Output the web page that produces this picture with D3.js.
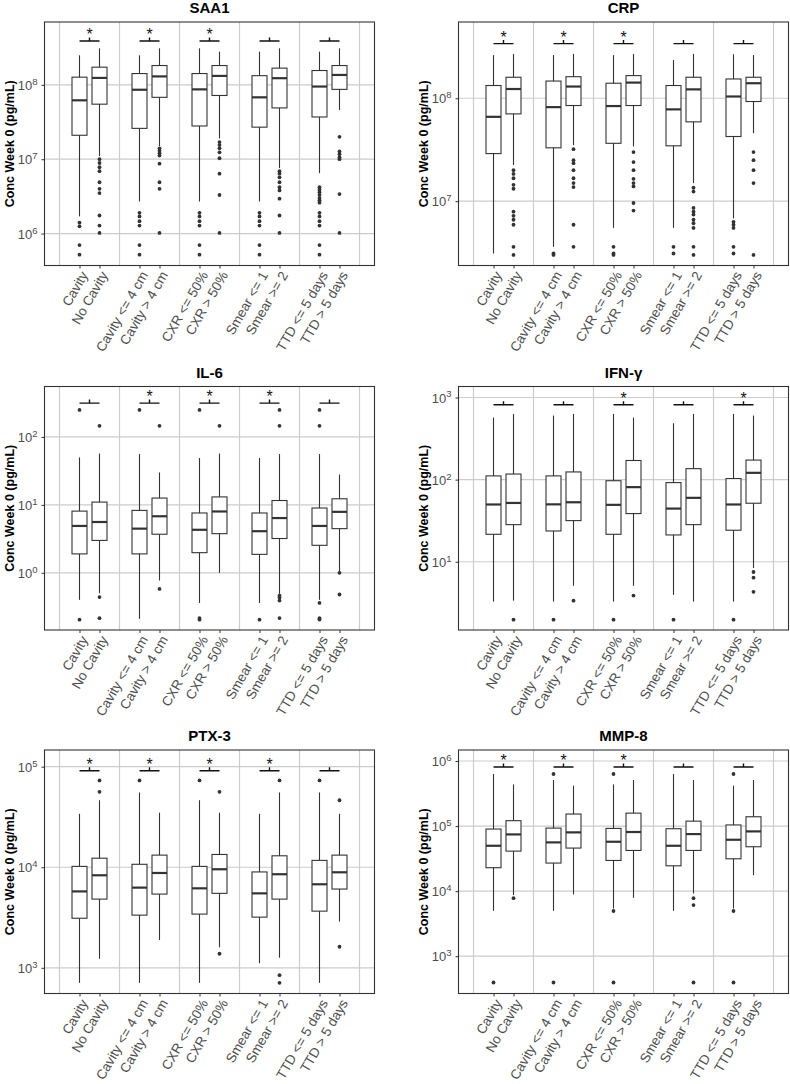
<!DOCTYPE html>
<html>
<head>
<meta charset="utf-8">
<script src="https://cdn.jsdelivr.net/npm/d3@7"></script>
<style>
  body { margin: 0; background: #fff; }
  svg { display: block; font-family: "Liberation Sans", Arial, sans-serif; }
</style>
</head>
<body>
<div id="chart"></div>
<script>
const w = 790;
const h = 1084;

const groups = [
  "Cavity", "No Cavity",
  "Cavity <= 4 cm", "Cavity > 4 cm",
  "CXR <= 50%", "CXR > 50%",
  "Smear <= 1", "Smear >= 2",
  "TTD <= 5 days", "TTD > 5 days",
];
const yTitle = "Conc Week 0 (pg/mL)";

// each box: [lower whisker, Q1, median, Q3, upper whisker]
const saa1Stats = [
  [1.7e6, 2.1e7, 6.2e7, 1.27e8, 2.5e8],
  [1.1e7, 5.5e7, 1.24e8, 1.73e8, 3.1e8],
  [2.7e6, 2.6e7, 8.6e7, 1.42e8, 2.5e8],
  [1.5e7, 6.8e7, 1.3e8, 1.82e8, 3.1e8],
  [2.7e6, 2.8e7, 8.7e7, 1.42e8, 3.1e8],
  [1.9e7, 7.2e7, 1.32e8, 1.82e8, 2.8e8],
  [2.7e6, 2.7e7, 6.8e7, 1.33e8, 2.8e8],
  [7.6e6, 4.9e7, 1.23e8, 1.68e8, 3.1e8],
  [6.5e6, 3.7e7, 9.5e7, 1.56e8, 2.8e8],
  [4.6e7, 8.7e7, 1.36e8, 1.82e8, 3.1e8],
];
const saa1Outliers = [
  [1.4e6, 1.25e6, 7e5, 5.2e5],
  [1.0e7, 8.9e6, 7.8e6, 6.9e6, 4.9e6, 4.0e6, 3.5e6, 1.75e6, 1.28e6, 1.02e6],
  [1.9e6, 1.7e6, 1.47e6, 1.28e6, 7e5, 5.2e5],
  [1.4e7, 1.3e7, 1.2e7, 1.12e7, 8.7e6, 4.9e6, 4.0e6, 1.02e6],
  [1.9e6, 1.7e6, 1.47e6, 1.28e6, 7e5, 5.2e5],
  [1.7e7, 1.55e7, 1.4e7, 1.24e7, 1.03e7, 6.4e6, 3.3e6, 1.02e6],
  [1.9e6, 1.7e6, 1.47e6, 1.28e6, 7e5, 5.2e5],
  [6.9e6, 6.4e6, 5.7e6, 4.9e6, 4.2e6, 3.8e6, 2.95e6, 1.75e6, 1.02e6],
  [4.2e6, 3.9e6, 3.6e6, 3.3e6, 3.0e6, 2.8e6, 2.6e6, 1.9e6, 1.7e6, 1.47e6, 1.28e6, 7e5, 5.2e5],
  [2.0e7, 1.27e7, 1.17e7, 1.06e7, 1.0e7, 3.4e6, 1.02e6],
];
const saa1Stars = [true, true, true, false, false];
const saa1Range = [3.72e5, 7.01e8];
const saa1Bracket = 3.9e8;

const crpStats = [
  [3.1e6, 2.9e7, 6.6e7, 1.33e8, 2.63e8],
  [2.25e7, 7.05e7, 1.23e8, 1.6e8, 2.7e8],
  [3.6e6, 3.3e7, 8.2e7, 1.47e8, 2.63e8],
  [3.5e7, 8.5e7, 1.3e8, 1.62e8, 2.7e8],
  [5.5e6, 3.65e7, 8.4e7, 1.4e8, 2.63e8],
  [3.4e7, 8.5e7, 1.42e8, 1.66e8, 2.7e8],
  [5.5e6, 3.45e7, 7.8e7, 1.33e8, 2.35e8],
  [1.5e7, 5.9e7, 1.22e8, 1.6e8, 2.7e8],
  [6.8e6, 4.25e7, 1.04e8, 1.54e8, 2.68e8],
  [4.57e7, 9.3e7, 1.4e8, 1.6e8, 2.63e8],
];
const crpOutliers = [
  [],
  [2.0e7, 1.84e7, 1.67e7, 1.44e7, 1.32e7, 7.9e6, 7.2e6, 6.6e6, 5.9e6, 3.6e6, 3.0e6],
  [3.1e6, 3.0e6],
  [3.2e7, 2.5e7, 2.34e7, 2.0e7, 1.67e7, 1.5e7, 1.37e7, 5.9e6, 3.6e6],
  [3.6e6, 3.1e6, 3.0e6],
  [3.0e7, 2.4e7, 2.0e7, 1.65e7, 1.5e7, 1.39e7, 9.6e6, 8.1e6],
  [3.6e6, 3.1e6],
  [1.35e7, 1.24e7, 8.6e6, 7.9e6, 7.4e6, 6.6e6, 6.1e6, 5.5e6, 3.6e6, 3.0e6],
  [6.3e6, 5.9e6, 5.5e6, 3.6e6, 3.1e6],
  [3.0e7, 2.5e7, 2.0e7, 1.5e7, 3.0e6],
];
const crpStars = [true, true, true, false, false];
const crpRange = [2.37e6, 5.51e8];
const crpBracket = 3.4e8;

const il6Stats = [
  [0.40, 1.9, 4.9, 8.1, 50],
  [0.5, 3.0, 5.6, 11, 57],
  [0.21, 1.9, 4.47, 8.3, 56],
  [0.77, 3.7, 6.8, 12.6, 30],
  [0.36, 1.98, 4.3, 7.6, 49],
  [1.0, 3.77, 8.0, 13.1, 57],
  [0.36, 1.87, 4.1, 7.6, 49],
  [0.49, 3.2, 6.4, 11.6, 56],
  [0.40, 2.54, 4.9, 9.0, 56],
  [1.05, 4.47, 7.9, 12.3, 28],
];
const il6Outliers = [
  [250, 0.204],
  [146, 0.44, 0.215],
  [250],
  [146, 0.58],
  [250, 0.216, 0.204],
  [146],
  [0.204],
  [250, 146, 0.46, 0.43, 0.39, 0.216],
  [250, 146, 0.36, 0.215, 0.205],
  [1.0, 0.48],
];
const il6Stars = [false, true, true, true, false];
const il6Range = [0.144, 553];
const il6Bracket = 315;

const ifngStats = [
  [3.27, 21.6, 49.8, 111, 570],
  [3.36, 28.3, 52, 117, 631],
  [3.27, 23.7, 50, 111, 603],
  [5.1, 31.7, 53, 124, 631],
  [3.27, 21.6, 49.3, 97, 631],
  [5.1, 38.6, 81, 171, 570],
  [3.95, 21.2, 44.4, 92, 486],
  [3.27, 28.3, 60, 136, 631],
  [3.27, 24.2, 49.8, 103, 631],
  [8.4, 51.6, 121, 173, 603],
];
const ifngOutliers = [
  [],
  [1.97],
  [1.97],
  [3.36],
  [1.97],
  [3.87],
  [1.97],
  [],
  [1.97],
  [7.5, 6.4, 4.3],
];
const ifngStars = [false, false, true, false, true];
const ifngRange = [1.476, 1361];
const ifngBracket = 815;

const ptx3Stats = [
  [708, 3110, 5750, 10200, 34000],
  [1230, 4820, 8320, 12300, 46400],
  [708, 3340, 6270, 10700, 55400],
  [1890, 5410, 8770, 13200, 34900],
  [708, 3420, 6170, 10200, 46400],
  [1600, 5500, 9550, 13400, 34900],
  [1110, 3190, 5500, 8980, 34000],
  [1260, 4820, 8520, 13000, 55400],
  [708, 3660, 6770, 11700, 55400],
  [2880, 6070, 8910, 13200, 34000],
];
const ptx3Outliers = [
  [],
  [73000, 56200],
  [73000],
  [],
  [73000],
  [56200, 1380],
  [],
  [73000, 844, 708],
  [73000],
  [46400, 1620],
];
const ptx3Stars = [true, true, true, true, false];
const ptx3Range = [555, 146600];
const ptx3Bracket = 91000;

const mmp8Stats = [
  [4980, 22900, 49800, 90000, 631000],
  [8700, 41200, 74400, 121000, 437000],
  [4980, 27000, 56100, 93000, 510000],
  [8900, 45900, 80000, 153000, 418000],
  [5400, 29600, 57400, 92000, 437000],
  [7900, 42200, 81000, 158000, 510000],
  [4980, 24500, 49800, 91000, 631000],
  [9200, 42200, 75300, 119000, 510000],
  [5400, 31400, 61600, 104000, 418000],
  [17600, 48100, 82800, 139000, 510000],
];
const mmp8Outliers = [
  [394],
  [7800],
  [631000, 394],
  [],
  [631000, 4950, 394],
  [],
  [],
  [7800, 6100, 394],
  [631000, 4950, 394],
  [],
];
const mmp8Stars = [true, true, true, false, false];
const mmp8Range = [267, 1.476e6];
const mmp8Bracket = 8.1e5;

const panels = [
  { title: "SAA1", stats: saa1Stats, outliers: saa1Outliers, stars: saa1Stars, range: saa1Range, bracket: saa1Bracket },
  { title: "CRP", stats: crpStats, outliers: crpOutliers, stars: crpStars, range: crpRange, bracket: crpBracket },
  { title: "IL-6", stats: il6Stats, outliers: il6Outliers, stars: il6Stars, range: il6Range, bracket: il6Bracket },
  { title: "IFN-γ", stats: ifngStats, outliers: ifngOutliers, stars: ifngStars, range: ifngRange, bracket: ifngBracket },
  { title: "PTX-3", stats: ptx3Stats, outliers: ptx3Outliers, stars: ptx3Stars, range: ptx3Range, bracket: ptx3Bracket },
  { title: "MMP-8", stats: mmp8Stats, outliers: mmp8Outliers, stars: mmp8Stars, range: mmp8Range, bracket: mmp8Bracket },
];

// layout
const colLeft = [44.5, 458.5];
const rowTop = [22, 386.5, 750];
const pw = 330;
const ph = 243.5;
const boxW = 15;
const ink = "#333333";
const gridCol = "#cccccc";
const tickCol = "#4d4d4d";

// x slots: an empty spacer before each pair and at the end
const slots = [];
for (let i = 0; i < groups.length; i += 2) {
  slots.push("gap" + i / 2, groups[i], groups[i + 1]);
}
slots.push("gap" + groups.length / 2);
const gaps = slots.filter((s) => s.startsWith("gap"));

const svg = d3
  .select("#chart")
  .append("svg")
  .attr("width", w)
  .attr("height", h);

panels.forEach(function (p, k) {
  const left = colLeft[k % 2];
  const top = rowTop[Math.floor(k / 2)];
  const bottom = top + ph;

  const x = d3.scalePoint().domain(slots).range([left, left + pw]).padding(0.75);
  const y = d3.scaleLog().domain(p.range).range([bottom, top]);

  const lo = Math.ceil(Math.log10(p.range[0]));
  const hi = Math.floor(Math.log10(p.range[1]));
  const decades = d3.range(lo, hi + 1).map((e) => Math.pow(10, e));

  const g = svg.append("g");

  // grid
  g.selectAll(".hgrid")
    .data(decades)
    .enter()
    .append("line")
    .attr("x1", left)
    .attr("x2", left + pw)
    .attr("y1", (d) => y(d))
    .attr("y2", (d) => y(d))
    .attr("stroke", gridCol)
    .attr("stroke-width", 1.2);

  g.selectAll(".vgrid")
    .data(gaps)
    .enter()
    .append("line")
    .attr("x1", (d) => x(d))
    .attr("x2", (d) => x(d))
    .attr("y1", top)
    .attr("y2", bottom)
    .attr("stroke", gridCol)
    .attr("stroke-width", 1.2);

  // whiskers
  g.selectAll(".whisk")
    .data(p.stats)
    .enter()
    .append("line")
    .attr("x1", (d, i) => x(groups[i]))
    .attr("x2", (d, i) => x(groups[i]))
    .attr("y1", (d) => y(d[0]))
    .attr("y2", (d) => y(d[4]))
    .attr("stroke", ink)
    .attr("stroke-width", 1.1);

  // boxes
  g.selectAll(".box")
    .data(p.stats)
    .enter()
    .append("rect")
    .attr("x", (d, i) => x(groups[i]) - boxW / 2)
    .attr("y", (d) => y(d[3]))
    .attr("width", boxW)
    .attr("height", (d) => y(d[1]) - y(d[3]))
    .attr("fill", "#fff")
    .attr("stroke", ink)
    .attr("stroke-width", 1.1);

  g.selectAll(".med")
    .data(p.stats)
    .enter()
    .append("line")
    .attr("x1", (d, i) => x(groups[i]) - boxW / 2)
    .attr("x2", (d, i) => x(groups[i]) + boxW / 2)
    .attr("y1", (d) => y(d[2]))
    .attr("y2", (d) => y(d[2]))
    .attr("stroke", ink)
    .attr("stroke-width", 2.2);

  // outliers
  const pts = [];
  p.outliers.forEach((arr, i) => arr.forEach((v) => pts.push({ g: groups[i], v: v })));
  g.selectAll(".pt")
    .data(pts)
    .enter()
    .append("circle")
    .attr("cx", (d) => x(d.g))
    .attr("cy", (d) => y(d.v))
    .attr("r", 1.9)
    .attr("fill", ink);

  // significance brackets
  const yb = y(p.bracket);
  p.stars.forEach(function (s, j) {
    const x1 = x(groups[2 * j]);
    const x2 = x(groups[2 * j + 1]);
    const xm = (x1 + x2) / 2;
    g.append("path")
      .attr("d", `M${x1},${yb}H${x2}M${xm},${yb}V${yb - 3.5}`)
      .attr("fill", "none")
      .attr("stroke", "#111")
      .attr("stroke-width", 1.4);
    if (s) {
      g.append("text")
        .attr("x", xm)
        .attr("y", yb - 1)
        .attr("text-anchor", "middle")
        .attr("font-size", "16px")
        .attr("fill", "#111")
        .text("*");
    }
  });

  // border
  g.append("rect")
    .attr("x", left)
    .attr("y", top)
    .attr("width", pw)
    .attr("height", ph)
    .attr("fill", "none")
    .attr("stroke", ink)
    .attr("stroke-width", 1.1);

  // y axis
  const yAxis = g
    .append("g")
    .attr("transform", `translate(${left},0)`)
    .call(d3.axisLeft(y).tickValues(decades).tickSize(3).tickPadding(4).tickFormat(""));
  yAxis.select(".domain").remove();
  yAxis.selectAll(".tick line").attr("stroke", ink);
  yAxis
    .selectAll(".tick text")
    .attr("fill", tickCol)
    .attr("font-size", "13px")
    .attr("dy", "0.36em")
    .each(function (d) {
      const t = d3.select(this);
      t.append("tspan").text("10");
      t.append("tspan")
        .attr("dy", "-0.55em")
        .attr("font-size", "9.5px")
        .text(Math.round(Math.log10(d)));
    });

  // x axis
  const xAxis = g
    .append("g")
    .attr("transform", `translate(0,${bottom})`)
    .call(d3.axisBottom(x).tickValues(groups).tickSize(3).tickFormat(""));
  xAxis.select(".domain").remove();
  xAxis.selectAll(".tick line").attr("stroke", ink);
  xAxis.selectAll(".tick text").remove();
  xAxis
    .selectAll(".tick")
    .append("text")
    .attr("transform", "translate(0,4.5) rotate(-60)")
    .attr("text-anchor", "end")
    .attr("dy", "0.72em")
    .attr("fill", tickCol)
    .attr("font-size", "13.5px")
    .text((d) => d);

  // titles
  g.append("text")
    .attr("x", left + pw / 2)
    .attr("y", top - 9)
    .attr("text-anchor", "middle")
    .attr("font-size", "15px")
    .attr("font-weight", "bold")
    .text(p.title);

  g.append("text")
    .attr("transform", `translate(${left - 30.5},${top + ph / 2}) rotate(-90)`)
    .attr("text-anchor", "middle")
    .attr("font-size", "12.5px")
    .attr("font-weight", "bold")
    .text(yTitle);
});
</script>
</body>
</html>
